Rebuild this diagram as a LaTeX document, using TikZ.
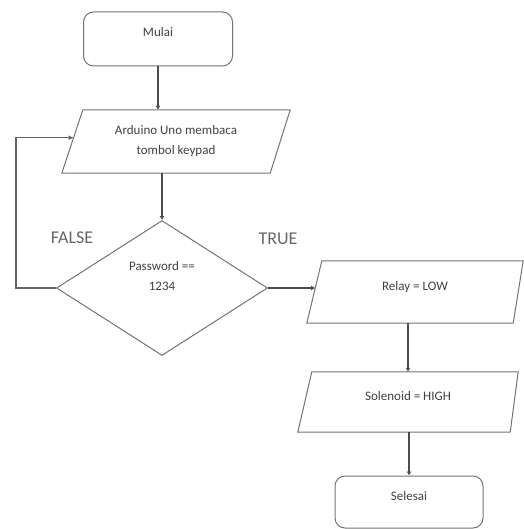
\documentclass[tikz,border=0pt]{standalone}
\usepackage{fontspec}
\setmainfont{Carlito}
\usetikzlibrary{shapes.geometric,arrows.meta,calc}
\begin{document}
\begin{tikzpicture}[x=1pt,y=-1pt,
  outline/.style={draw=black!55, line width=1pt},
  label text/.style={font=\fontsize{13}{20}\selectfont, text=black!75, align=center},
  oneline/.style={text height=6pt, text depth=10pt},
  terminal/.style={outline, label text, oneline, rounded corners=10pt, inner sep=0pt},
  io/.style={label text, rectangle, inner sep=0pt},
  decision/.style={outline, label text, diamond, inner sep=0pt, minimum width=211pt, minimum height=135pt},
  flow/.style={draw=black!70, line width=2.4pt, -{Latex[length=4pt,width=5pt]}},
  loopflow/.style={draw=black!60, line width=1.5pt, -{Latex[length=5pt,width=5pt]}},
  branch/.style={font=\fontsize{18}{20}\selectfont, text=black!60}
]
\useasboundingbox (0,0) rectangle (523,529);

% process steps
\node[terminal, minimum width=149pt, minimum height=54pt] (mulai) at (158,39) {Mulai};
\node[io, minimum width=228pt, minimum height=63pt] (read) at (176,141.5)
      {Arduino Uno membaca\\tombol keypad};
\node[decision] (dec) at (162,288) {Password == \\ 1234\\[4pt]};
\node[io, oneline, minimum width=216pt, minimum height=62pt] (relay) at (415,292) {Relay = LOW};
\node[io, oneline, minimum width=220pt, minimum height=60pt] (sol) at (408,402) {Solenoid = HIGH};
\node[terminal, minimum width=148pt, minimum height=52pt] (selesai) at (409,502) {Selesai};

% parallelogram outlines of the input/output steps
\coordinate (readTL) at ($(read.north west)+(21,0)$);
\coordinate (readBR) at ($(read.south east)+(-20,0)$);
\draw[outline] (readTL) -- (read.north east) -- (readBR) -- (read.south west) -- cycle;
\coordinate (relayTL) at ($(relay.north west)+(15,0)$);
\coordinate (relayBR) at ($(relay.south east)+(-10,0)$);
\draw[outline] (relayTL) -- (relay.north east) -- (relayBR) -- (relay.south west) -- cycle;
\coordinate (solTL) at ($(sol.north west)+(14,0)$);
\coordinate (solBR) at ($(sol.south east)+(-8,0)$);
\draw[outline] (solTL) -- (sol.north east) -- (solBR) -- (sol.south west) -- cycle;

% branch labels
\node[branch] (lfalse) at (72,238) {FALSE};
\node[branch] (ltrue) at (278,239) {TRUE};

% connectors
\coordinate (loopend) at ($(read.south west)!0.56!(readTL)$);
\coordinate (relayin) at ($(relay.south west)!0.56!(relayTL)$);
\draw[flow] (mulai.south) -- (mulai.south |- read.north);
\draw[flow] (dec.north |- read.south) -- (dec.north);
\draw[flow] (dec.east) -- (dec.east -| relayin);
\draw[flow] (sol.north |- relay.south) -- (sol.north);
\draw[flow] (selesai.north |- sol.south) -- (selesai.north);
\draw[loopflow] (dec.west) -- ++(-40,0) |- (loopend);
\end{tikzpicture}
\end{document}
